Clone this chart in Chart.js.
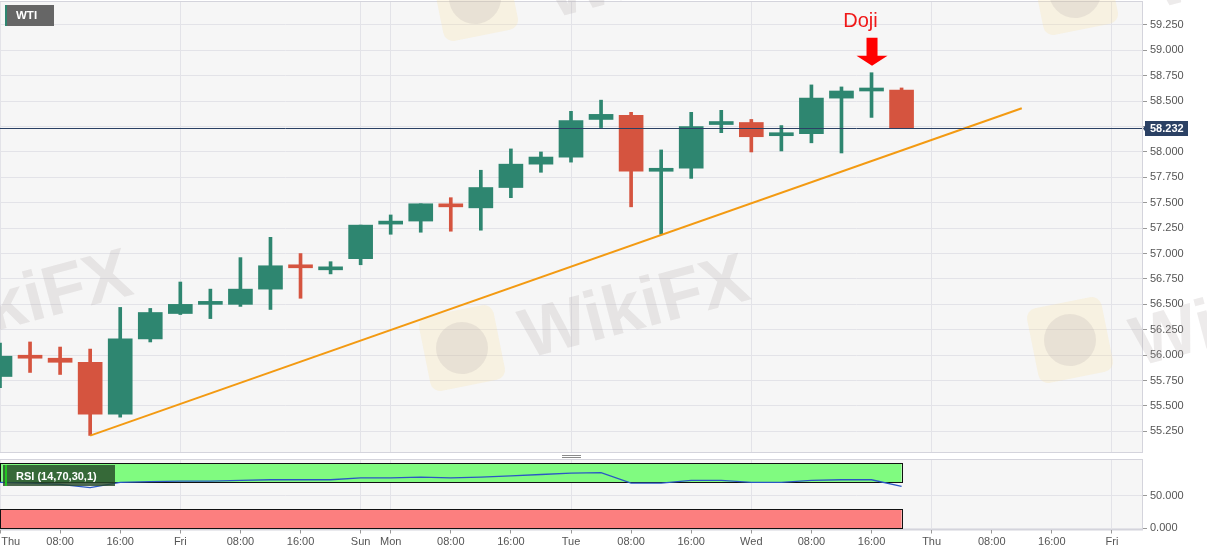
<!DOCTYPE html>
<html>
<head>
<meta charset="utf-8">
<script src="https://cdn.jsdelivr.net/npm/chart.js@4.4.1/dist/chart.umd.min.js"></script>
<style>
html, body { margin: 0; padding: 0; background: #fff; }
#wrap { position: relative; width: 1207px; height: 555px; overflow: hidden; }
#main { position: absolute; left: 0; top: 0; }
#rsi { position: absolute; left: 0; top: 455px; }
</style>
</head>
<body>
<div id="wrap">
  <canvas id="main" width="1207" height="455"></canvas>
  <canvas id="rsi" width="1207" height="100"></canvas>
</div>
<script>
// 4h candles, index 0 = Thu 00:00
const opens  = [55.79,55.99,55.97,55.93,55.42,56.16,56.41,56.50,56.50,56.65,56.88,56.84,56.95,57.29,57.32,57.48,57.45,57.65,57.88,57.95,58.32,58.36,57.81,57.84,58.27,58.29,58.16,58.18,58.53,58.60,58.61];
const closes = [55.99,55.97,55.93,55.42,56.16,56.42,56.50,56.51,56.65,56.88,56.86,56.86,57.28,57.31,57.49,57.46,57.65,57.88,57.95,58.31,58.37,57.81,57.83,58.25,58.29,58.15,58.18,58.53,58.60,58.61,58.23];
const highs  = [56.12,56.13,56.08,56.06,56.47,56.46,56.72,56.65,56.96,57.16,57.00,56.92,57.28,57.38,57.49,57.55,57.82,58.03,58.00,58.40,58.51,58.39,58.02,58.39,58.41,58.32,58.26,58.66,58.64,58.78,58.63];
const lows   = [55.68,55.83,55.81,55.21,55.39,56.13,56.40,56.36,56.48,56.45,56.56,56.80,56.89,57.19,57.21,57.22,57.23,57.55,57.80,57.90,58.24,57.46,57.19,57.74,58.19,58.00,58.01,58.09,57.99,58.34,58.23];
const rsi    = [70,69,67,62,70,71,72,72,73,74,74,74,77,77,78,77,78,80,82,84,85,69,69,73,73,70,70,73,74,74,64];

const tickIdx  = [0,2,4,6,8,10,12,13,15,17,19,21,23,25,27,29,31,33,35,37];
const tickText = ['Thu','08:00','16:00','Fri','08:00','16:00','Sun','Mon','08:00','16:00','Tue','08:00','16:00','Wed','08:00','16:00','Thu','08:00','16:00','Fri'];
const dayIdx   = [0,6,12,13,19,25,31,37];
const priceTicks = [55.25,55.5,55.75,56,56.25,56.5,56.75,57,57.25,57.5,57.75,58,58.25,58.5,58.75,59,59.25];
const rsiTicks = [0, 50];
const lastPrice = 58.232;
const trendX = [3, 34];
const trendY = [55.208, 58.43];
const dojiIdx = 29;

const green = '#2e8670', red = '#d5543f';
const gridCol = '#e3e3e8', edgeCol = '#d4d4dc';
const FONT = '"Liberation Sans", Arial, sans-serif';
Chart.defaults.font.family = FONT;

const cols = opens.map((o, i) => closes[i] >= o ? green : red);

function xLabel(v) {
  const k = tickIdx.indexOf(v);
  if (k < 0) return '';
  return k === 0 ? '       ' + tickText[k] : tickText[k];
}

function drawMark(ctx, x, y) {
  ctx.save();
  ctx.translate(x, y);
  ctx.rotate(-0.26);
  ctx.fillStyle = 'rgba(175,165,165,0.22)';
  ctx.font = 'bold 70px ' + FONT;
  ctx.textAlign = 'center';
  ctx.textBaseline = 'middle';
  ctx.fillText('WikiFX', 0, 0);
  ctx.restore();
}
function drawLogo(ctx, x, y) {
  ctx.save();
  ctx.translate(x, y);
  ctx.rotate(-0.2);
  ctx.fillStyle = 'rgba(250,225,150,0.22)';
  ctx.beginPath();
  ctx.roundRect(-38, -38, 76, 76, 10);
  ctx.fill();
  ctx.fillStyle = 'rgba(175,165,165,0.2)';
  ctx.beginPath();
  ctx.arc(0, 0, 26, 0, Math.PI * 2);
  ctx.fill();
  ctx.restore();
}

const mainDeco = {
  id: 'mainDeco',
  beforeDraw(chart) {
    const { ctx, chartArea: a } = chart;
    ctx.save();
    ctx.fillStyle = '#f6f6f6';
    ctx.fillRect(a.left, a.top, a.right - a.left, a.bottom - a.top);
    ctx.strokeStyle = edgeCol;
    ctx.lineWidth = 1;
    ctx.strokeRect(a.left + 0.5, a.top - 0.5, a.right - a.left, a.bottom - a.top + 1);
    ctx.restore();
  },
  beforeDatasetsDraw(chart) {
    const ctx = chart.ctx;
    drawLogo(ctx, 462, 348);
    drawLogo(ctx, 1070, 340);
    drawLogo(ctx, 475, -2);
    drawLogo(ctx, 1075, -8);
    drawMark(ctx, 635, 310);
    drawMark(ctx, 18, 305);
    drawMark(ctx, 1246, 318);
    drawMark(ctx, 660, -30);
    drawMark(ctx, 1265, -40);
  },
  afterDatasetsDraw(chart) {
    const { ctx, chartArea: a, scales } = chart;
    const y = Math.round(scales.y.getPixelForValue(lastPrice)) + 0.5;
    ctx.save();
    // last price line
    ctx.strokeStyle = '#2b4164';
    ctx.lineWidth = 1;
    ctx.beginPath();
    ctx.moveTo(a.left, y);
    ctx.lineTo(a.right, y);
    ctx.stroke();
    ctx.fillStyle = '#2b4164';
    ctx.beginPath();
    ctx.moveTo(a.right + 1, y);
    ctx.lineTo(a.right + 4, y - 4);
    ctx.lineTo(a.right + 4, y + 4);
    ctx.closePath();
    ctx.fill();
    ctx.fillRect(a.right + 3, y - 7.5, 43, 15);
    ctx.fillStyle = '#fff';
    ctx.font = 'bold 11px ' + FONT;
    ctx.textBaseline = 'middle';
    ctx.fillText(lastPrice.toFixed(3), a.right + 8, y + 0.5);
    // WTI tag
    ctx.fillStyle = '#666';
    ctx.fillRect(5, 5, 49, 21);
    ctx.fillStyle = green;
    ctx.fillRect(5, 5, 2, 21);
    ctx.fillStyle = '#fff';
    ctx.font = 'bold 11.5px ' + FONT;
    ctx.fillText('WTI', 16, 16);
    // Doji note
    const dx = scales.x.getPixelForValue(dojiIdx);
    const tip = scales.y.getPixelForValue(highs[dojiIdx]) - 7;
    ctx.fillStyle = '#f01818';
    ctx.font = '20px ' + FONT;
    ctx.textBaseline = 'alphabetic';
    ctx.textAlign = 'center';
    ctx.fillText('Doji', dx - 11, 27);
    ctx.fillStyle = '#f00';
    ctx.beginPath();
    ctx.moveTo(dx - 5, tip - 28);
    ctx.lineTo(dx + 6, tip - 28);
    ctx.lineTo(dx + 6, tip - 10);
    ctx.lineTo(dx + 16, tip - 10);
    ctx.lineTo(dx + 0.5, tip);
    ctx.lineTo(dx - 15, tip - 10);
    ctx.lineTo(dx - 5, tip - 10);
    ctx.closePath();
    ctx.fill();
    ctx.restore();
  }
};

const rsiDeco = {
  id: 'rsiDeco',
  beforeDraw(chart) {
    const { ctx, chartArea: a } = chart;
    ctx.save();
    ctx.fillStyle = '#f6f6f6';
    ctx.fillRect(a.left, a.top, a.right - a.left, a.bottom - a.top);
    ctx.strokeStyle = edgeCol;
    ctx.strokeRect(a.left + 0.5, a.top - 0.5, a.right - a.left, a.bottom - a.top + 1);
    // panel handle
    ctx.strokeStyle = '#8a8a8a';
    ctx.beginPath();
    ctx.moveTo(562, 0.5); ctx.lineTo(581, 0.5);
    ctx.moveTo(562, 2.5); ctx.lineTo(581, 2.5);
    ctx.stroke();
    ctx.restore();
  },
  beforeDatasetsDraw(chart) {
    const { ctx, scales } = chart;
    const x0 = scales.x.getPixelForValue(0);
    const x1 = scales.x.getPixelForValue(rsi.length - 1);
    const band = (lo, hi, fill) => {
      const yt = Math.round(scales.y.getPixelForValue(hi)) + 0.5;
      const yb = Math.round(scales.y.getPixelForValue(lo)) + 0.5;
      ctx.fillStyle = fill;
      ctx.fillRect(x0, yt, x1 - x0, yb - yt);
      ctx.strokeStyle = '#111';
      ctx.lineWidth = 1;
      ctx.strokeRect(x0 + 0.5, yt, Math.round(x1 - x0), yb - yt);
    };
    ctx.save();
    band(70, 100, '#80fb80');
    band(0, 30, '#fc7f7f');
    ctx.restore();
  },
  afterDatasetsDraw(chart) {
    const ctx = chart.ctx;
    ctx.save();
    ctx.fillStyle = 'rgba(38,72,40,0.82)';
    ctx.fillRect(3, 10, 112, 21);
    ctx.fillStyle = '#22c522';
    ctx.fillRect(5, 10, 2, 21);
    ctx.fillStyle = '#fff';
    ctx.font = 'bold 11px ' + FONT;
    ctx.textBaseline = 'middle';
    ctx.fillText('RSI (14,70,30,1)', 16, 21.5);
    ctx.restore();
  }
};

new Chart(document.getElementById('main'), {
  type: 'bar',
  data: {
    datasets: [
      {
        type: 'line',
        data: trendX.map((x, i) => ({ x: x, y: trendY[i] })),
        borderColor: '#f39a12',
        borderWidth: 2,
        pointRadius: 0,
        order: 0
      },
      {
        data: opens.map((o, i) => ({ x: i, y: [o, closes[i]] })),
        backgroundColor: cols,
        barThickness: 24,
        minBarLength: 3,
        grouped: false,
        order: 1
      },
      {
        data: highs.map((h, i) => ({ x: i, y: [lows[i], h] })),
        backgroundColor: cols,
        barThickness: 3,
        grouped: false,
        order: 2
      }
    ]
  },
  options: {
    responsive: false,
    animation: false,
    layout: { padding: { top: 2, bottom: 3, left: 0, right: 0 } },
    plugins: { legend: { display: false }, tooltip: { enabled: false } },
    scales: {
      x: {
        type: 'linear', min: 0, max: 38, offset: false,
        grid: { offset: false, drawTicks: false, color: c => dayIdx.includes(c.tick.value) ? gridCol : 'rgba(0,0,0,0)' },
        border: { display: true, color: edgeCol },
        ticks: { display: false },
        afterBuildTicks: s => { s.ticks = tickIdx.map(v => ({ value: v })); },
        afterFit: s => { s.height = 0; s.paddingLeft = 0; s.paddingRight = 0; }
      },
      y: {
        type: 'linear', position: 'right', min: 55.047, max: 59.476,
        grid: { color: gridCol, tickLength: 5, tickColor: '#999' },
        border: { color: edgeCol },
        ticks: { color: '#555', font: { size: 11 }, padding: 3, callback: v => Number(v).toFixed(3) },
        afterBuildTicks: s => { s.ticks = priceTicks.map(v => ({ value: v })); },
        afterFit: s => { s.width = 65; s.paddingTop = 0; s.paddingBottom = 0; }
      }
    }
  },
  plugins: [mainDeco]
});

new Chart(document.getElementById('rsi'), {
  type: 'line',
  data: {
    datasets: [{
      data: rsi.map((v, i) => ({ x: i, y: v })),
      borderColor: '#2b58c4',
      borderWidth: 1.3,
      pointRadius: 0,
      tension: 0
    }]
  },
  options: {
    responsive: false,
    animation: false,
    layout: { padding: { top: 5, bottom: 0, left: 0, right: 0 } },
    plugins: { legend: { display: false }, tooltip: { enabled: false } },
    scales: {
      x: {
        type: 'linear', min: 0, max: 38, offset: false,
        grid: { tickLength: 4, tickColor: '#999', color: c => dayIdx.includes(c.tick.value) ? gridCol : 'rgba(0,0,0,0)' },
        border: { color: edgeCol },
        ticks: { color: '#555', font: { size: 11 }, padding: 2, maxRotation: 0, autoSkip: false, callback: v => xLabel(v) },
        afterBuildTicks: s => { s.ticks = tickIdx.map(v => ({ value: v })); },
        afterFit: s => { s.height = 25.5; s.paddingLeft = 0; s.paddingRight = 0; }
      },
      y: {
        type: 'linear', position: 'right', min: -1.8, max: 104.1,
        grid: { color: gridCol, tickLength: 5, tickColor: '#999' },
        border: { color: edgeCol },
        ticks: { color: '#555', font: { size: 11 }, padding: 3, callback: v => Number(v).toFixed(3) },
        afterBuildTicks: s => { s.ticks = rsiTicks.map(v => ({ value: v })); },
        afterFit: s => { s.width = 65; s.paddingTop = 0; s.paddingBottom = 0; }
      }
    }
  },
  plugins: [rsiDeco]
});
</script>
</body>
</html>
